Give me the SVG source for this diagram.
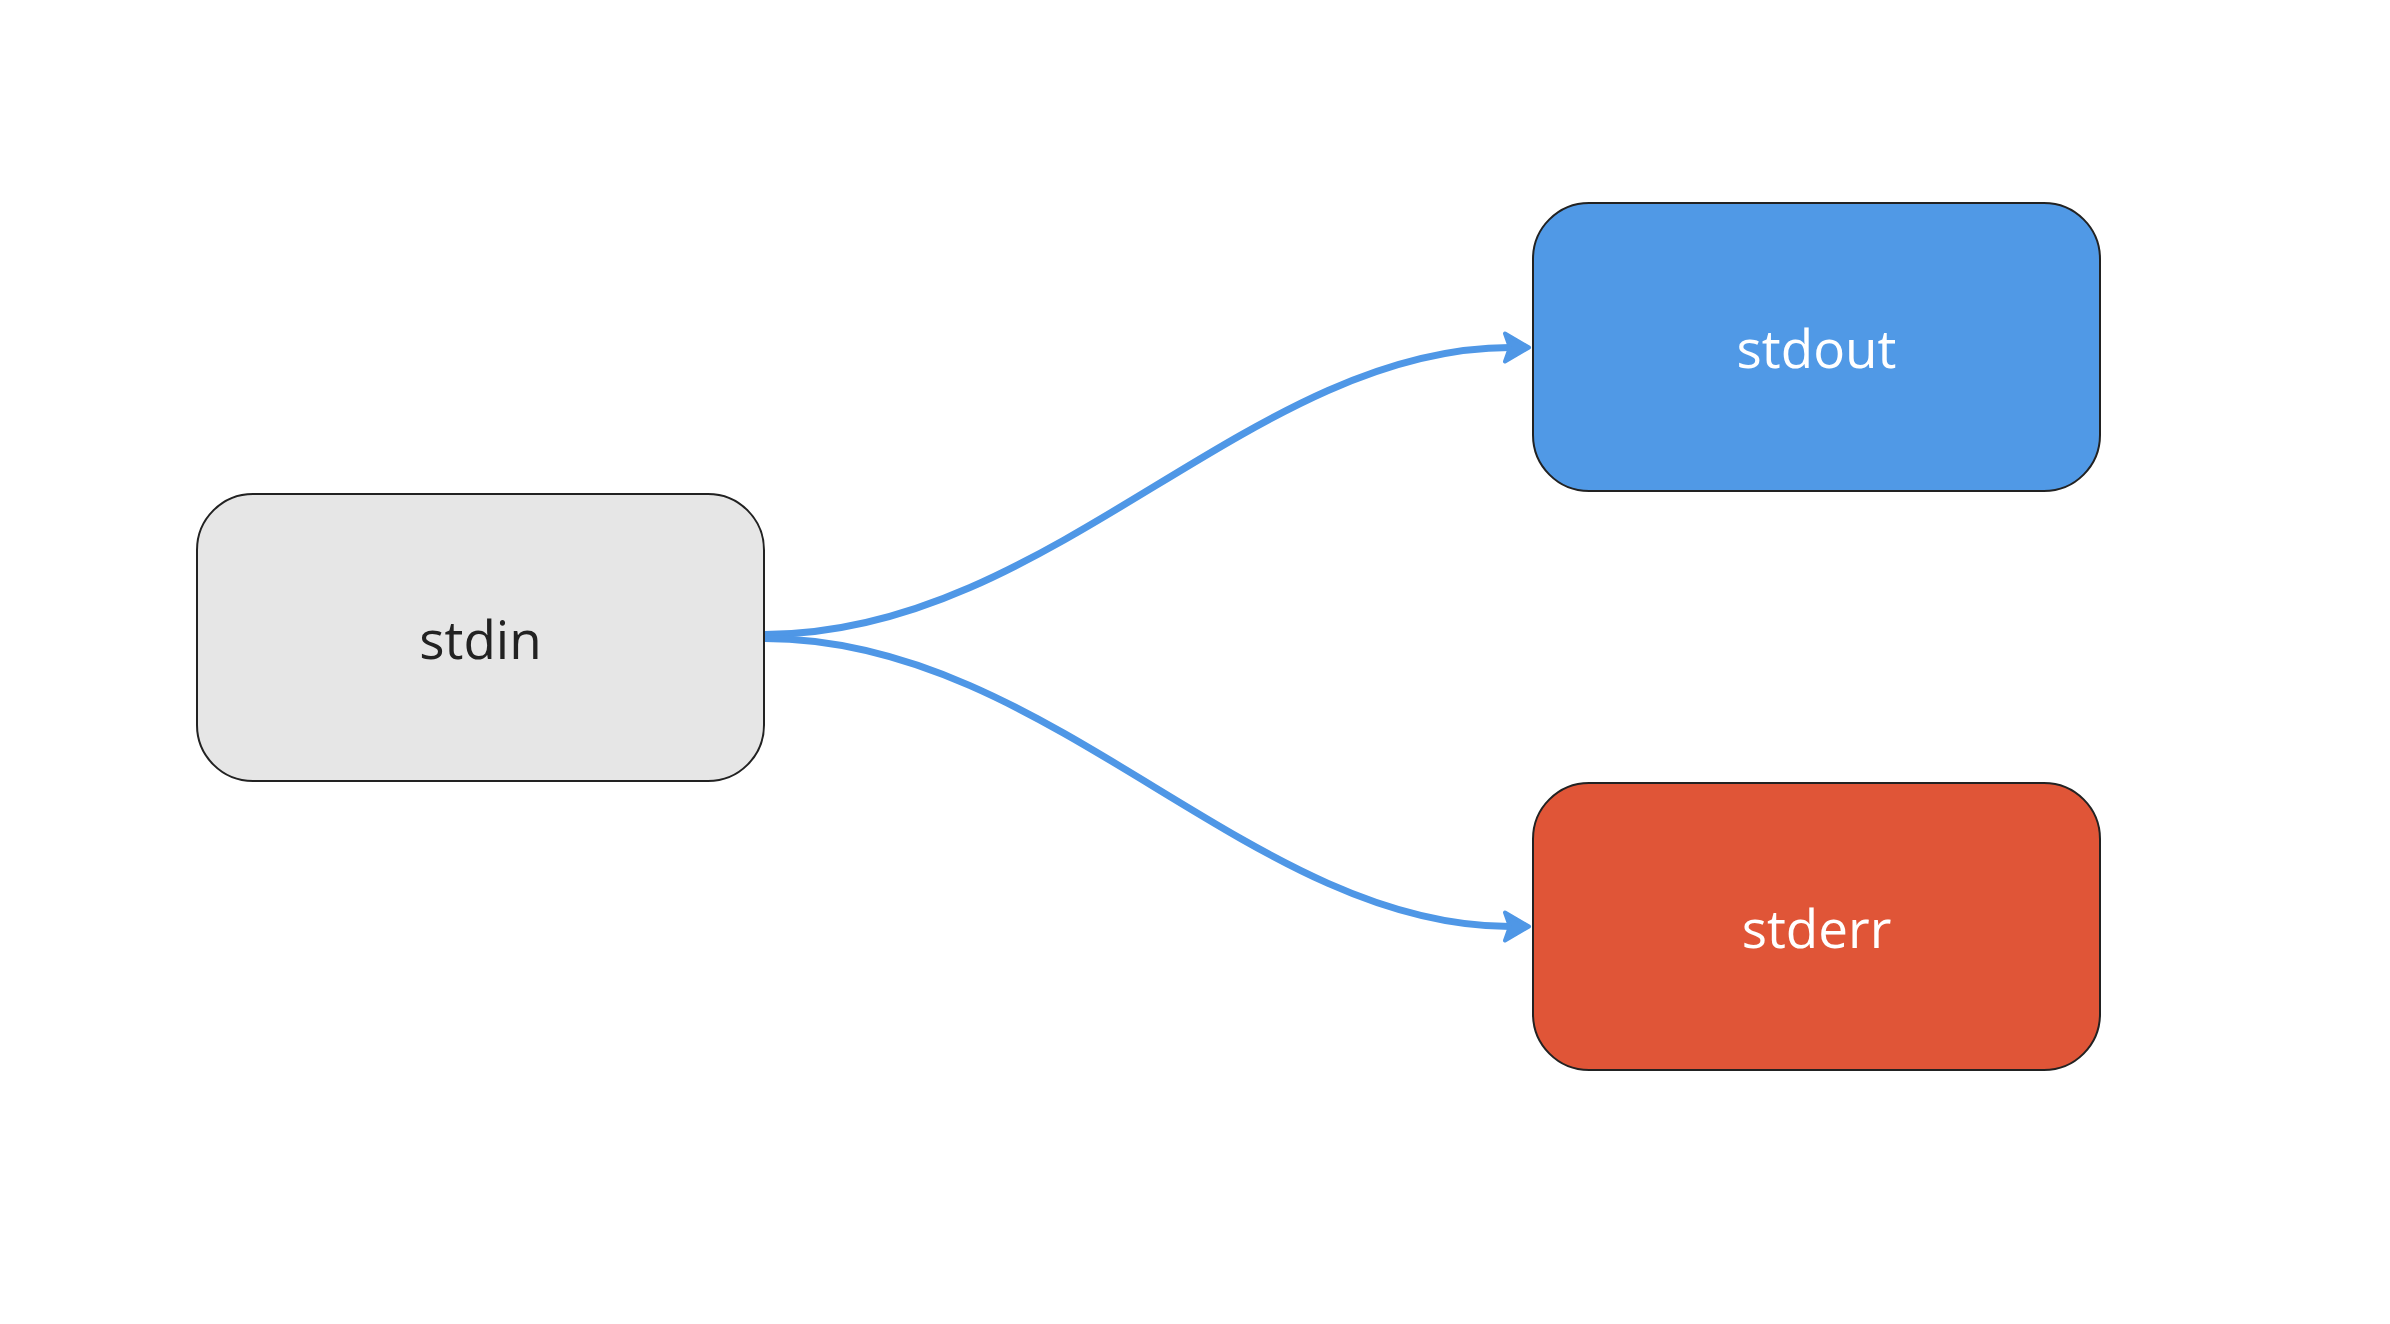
<svg xmlns="http://www.w3.org/2000/svg" width="2390" height="1324" viewBox="0 0 2390 1324">
  <style>
    .box { stroke: #222222; stroke-width: 2; }
    .label { font-family: "Open Sans", "Noto Sans", "Liberation Sans", sans-serif; font-size: 53px; text-anchor: middle; }
    .edge { fill: none; stroke: #4f97e6; stroke-width: 7; }
  </style>
  <defs>
    <marker id="arrow" markerUnits="userSpaceOnUse" viewBox="0 0 40 40" markerWidth="40" markerHeight="40" refX="10" refY="20" orient="auto" overflow="visible">
      <path d="M29,20 L5,6 L10,20 L5,34 Z" fill="#4f97e6" stroke="#4f97e6" stroke-width="4" stroke-linejoin="round"/>
    </marker>
  </defs>
  <rect width="2390" height="1324" fill="#ffffff"/>
  <g id="connectors">
    <path class="edge" d="M765,634.5 C1050,634.5 1250,347.5 1510,347.5" marker-end="url(#arrow)"/>
    <path class="edge" d="M765,638.5 C1050,638.5 1250,926.5 1510,926.5" marker-end="url(#arrow)"/>
  </g>
  <g id="stdin">
    <rect class="box" x="197" y="494" width="567" height="287" rx="56" ry="56" fill="#e6e6e6"/>
    <text class="label" x="480.5" y="658.5" fill="#222222">stdin</text>
  </g>
  <g id="stdout">
    <rect class="box" x="1533" y="203" width="567" height="288" rx="56" ry="56" fill="#5099e6"/>
    <text class="label" x="1816.5" y="368" fill="#ffffff">stdout</text>
  </g>
  <g id="stderr">
    <rect class="box" x="1533" y="783" width="567" height="287" rx="56" ry="56" fill="#e05537"/>
    <text class="label" x="1816.5" y="947.5" fill="#ffffff">stderr</text>
  </g>
</svg>
